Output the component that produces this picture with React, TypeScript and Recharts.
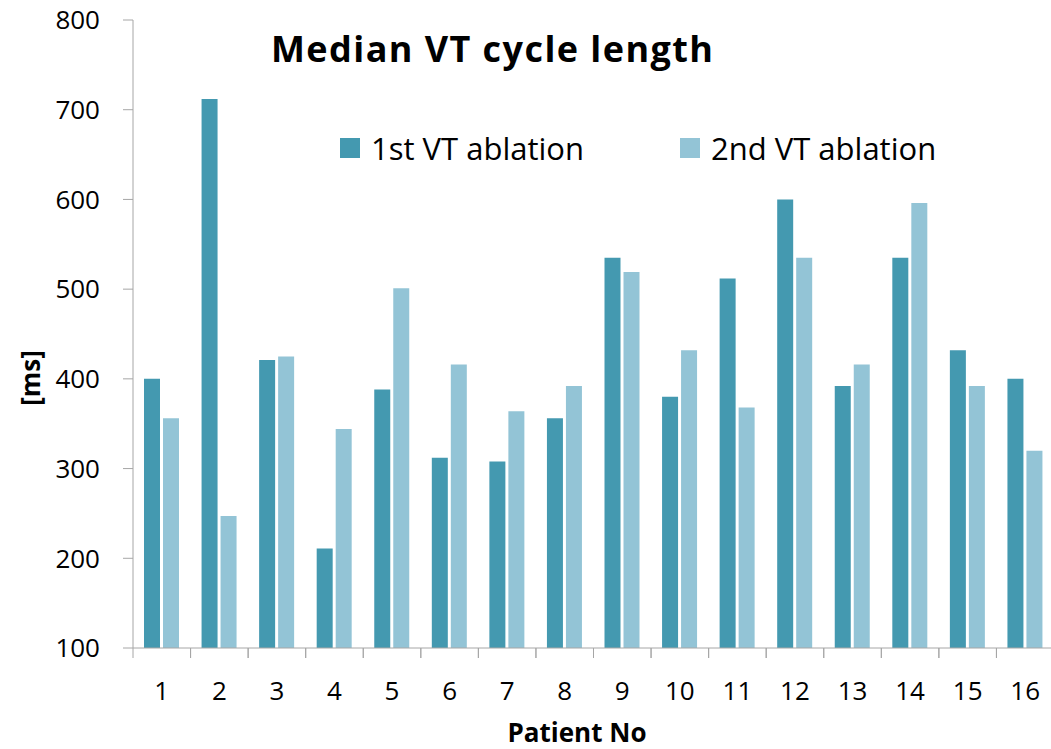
import { BarChart, Bar, XAxis, YAxis } from "recharts";

const patients = ["1", "2", "3", "4", "5", "6", "7", "8", "9", "10", "11", "12", "13", "14", "15", "16"];
const firstAblation = [400, 712, 421, 211, 388, 312, 308, 356, 535, 380, 512, 600, 392, 535, 432, 400];
const secondAblation = [356, 247, 425, 344, 501, 416, 364, 392, 519, 432, 368, 535, 416, 596, 392, 320];
const yTicks = [100, 200, 300, 400, 500, 600, 700, 800];
const seriesNames = ["1st VT ablation", "2nd VT ablation"];

const DARK = "#4499b0";
const LIGHT = "#93c4d6";
const AXIS = "#a6a6a6";
const FONT = "'Open Sans', Lato, sans-serif";

const data = patients.map((p, i) => ({
  patient: p,
  first: firstAblation[i],
  second: secondAblation[i],
}));

// Excel style: tick marks sit between categories, labels in the middle
function PatientTick(props: any) {
  const { x, y, payload, width } = props;
  const bw = width / patients.length;
  return (
    <g>
      <line x1={x - bw / 2} y1={y - 10} x2={x - bw / 2} y2={y} stroke={AXIS} strokeWidth={1} />
      <line x1={x + bw / 2} y1={y - 10} x2={x + bw / 2} y2={y} stroke={AXIS} strokeWidth={1} />
      <text x={x} y={y + 42} textAnchor="middle" fontSize={26} fill="#000" fontFamily={FONT}>
        {payload.value}
      </text>
    </g>
  );
}

function LegendBox() {
  const colors = [DARK, LIGHT];
  return (
    <div
      style={{
        position: "absolute",
        left: 340,
        top: 128,
        display: "flex",
        fontFamily: FONT,
        fontSize: 31,
        color: "#000",
      }}
    >
      {seriesNames.map((name, i) => (
        <div key={name} style={{ width: 340, display: "flex", alignItems: "center", lineHeight: "40px" }}>
          <span style={{ width: 20, height: 20, background: colors[i], marginRight: 11, display: "inline-block" }} />
          <span>{name}</span>
        </div>
      ))}
    </div>
  );
}

export default function App() {
  return (
    <div style={{ position: "absolute", left: 0, top: 0, width: 1051, height: 749, overflow: "hidden", background: "#fff" }}>
      <BarChart
        width={1060}
        height={749}
        data={data}
        margin={{ top: 20, right: 6, bottom: 41, left: 0 }}
        barGap={3}
        barSize={16}
      >
        <XAxis
          dataKey="patient"
          height={60}
          stroke={AXIS}
          tickLine={false}
          tickSize={10}
          tickMargin={0}
          interval={0}
          tick={<PatientTick />}
        />
        <YAxis
          width={133}
          domain={[100, 800]}
          ticks={yTicks}
          allowDataOverflow
          stroke={AXIS}
          tickSize={10}
          tickMargin={23}
          tick={{ fill: "#000", fontSize: 26, fontFamily: FONT }}
        />
        <Bar dataKey="first" name={seriesNames[0]} fill={DARK} isAnimationActive={false} />
        <Bar dataKey="second" name={seriesNames[1]} fill={LIGHT} isAnimationActive={false} />
        <text x={271} y={62} fontSize={36} fontWeight="bold" fontFamily={FONT} fill="#000" textLength={442}>
          Median VT cycle length
        </text>
        <text
          x={40}
          y={378}
          fontSize={26}
          fontWeight="bold"
          fontFamily={FONT}
          fill="#000"
          textAnchor="middle"
          transform="rotate(-90 40 378)"
        >
          [ms]
        </text>
        <text x={577} y={742} fontSize={26} fontWeight="bold" fontFamily={FONT} fill="#000" textAnchor="middle">
          Patient No
        </text>
      </BarChart>
      <LegendBox />
    </div>
  );
}
